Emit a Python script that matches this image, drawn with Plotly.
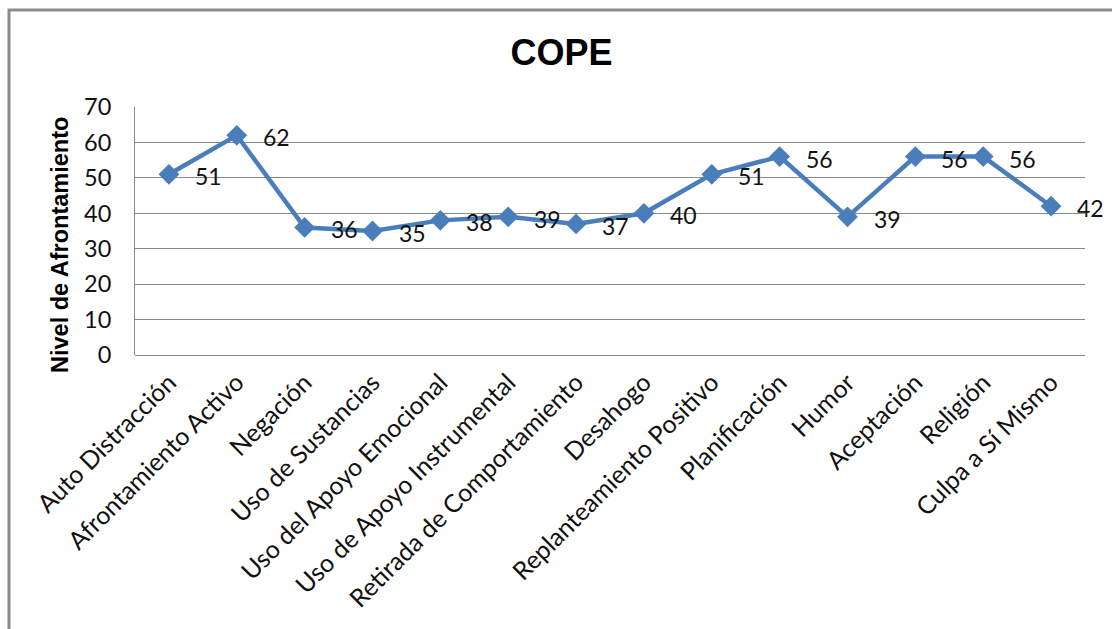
import plotly.graph_objects as go

categories = [
    "Auto Distracción", "Afrontamiento Activo", "Negación", "Uso de Sustancias",
    "Uso del Apoyo Emocional", "Uso de Apoyo Instrumental", "Retirada de Comportamiento",
    "Desahogo", "Replanteamiento Positivo", "Planificación", "Humor", "Aceptación",
    "Religión", "Culpa a Sí Mismo",
]
values = [51, 62, 36, 35, 38, 39, 37, 40, 51, 56, 39, 56, 56, 42]
y_ticks = [0, 10, 20, 30, 40, 50, 60, 70]

W, H = 1112, 629
L, R, T, B = 135, 1085, 107, 355  # plot area edges in pixels
pw, ph = R - L, B - T

LINE = "#4A7EBB"
GRID = "#8A8A8A"
TEXT = "#111111"
FONT = "Lato, Carlito, Calibri, sans-serif"

fig = go.Figure()
fig.add_trace(go.Scatter(
    x=list(range(len(categories))), y=values, mode="lines+markers",
    line=dict(color=LINE, width=4.5),
    marker=dict(symbol="diamond", size=16, color=LINE),
    hoverinfo="skip", showlegend=False,
))

# value labels to the right of each marker
for i, v in enumerate(values):
    fig.add_annotation(x=i, y=v, text=str(v), showarrow=False,
                       xanchor="left", yanchor="middle", xshift=24, yshift=-2,
                       font=dict(family=FONT, size=23, color=TEXT))

# y-axis title
fig.add_annotation(x=(60 - L) / pw, y=(B - 245) / ph, xref="paper", yref="paper",
                   text="<b>Nivel de Afrontamiento</b>", textangle=-90, showarrow=False,
                   xanchor="center", yanchor="middle",
                   font=dict(family="Liberation Sans, Arial, sans-serif", size=23.5, color="black"))

# outer chart frame
fig.add_shape(type="rect", xref="paper", yref="paper",
              x0=(9 - L) / pw, x1=(W + 6 - L) / pw,
              y0=(B - (H + 6)) / ph, y1=(B - 10) / ph,
              line=dict(color="#8C8C8C", width=3), fillcolor="rgba(0,0,0,0)", layer="below")

fig.update_layout(
    width=W, height=H,
    margin=dict(l=L, r=W - R, t=T, b=H - B, autoexpand=False),
    paper_bgcolor="white", plot_bgcolor="white",
    title=dict(text="<b>COPE</b>", x=(561.5) / W, xanchor="center",
               y=1 - 52 / H, yanchor="middle",
               font=dict(family="Liberation Sans, Arial, sans-serif", size=36, color="black")),
    xaxis=dict(
        range=[-0.5, len(categories) - 0.5],
        tickmode="array", tickvals=list(range(len(categories))), ticktext=categories,
        tickangle=-45, ticks="", ticklabelstandoff=7,
        showgrid=False, zeroline=False, showline=False,
        tickfont=dict(family=FONT, size=25, color=TEXT),
        fixedrange=True,
    ),
    yaxis=dict(
        range=[0, 70], tickmode="array", tickvals=y_ticks,
        ticks="", ticklabelstandoff=18,
        showgrid=True, gridcolor=GRID, gridwidth=1,
        zeroline=True, zerolinecolor=GRID, zerolinewidth=1,
        showline=True, linecolor=GRID, linewidth=1,
        tickfont=dict(family=FONT, size=23.5, color=TEXT),
        fixedrange=True,
    ),
)

fig.write_html("out.html")
